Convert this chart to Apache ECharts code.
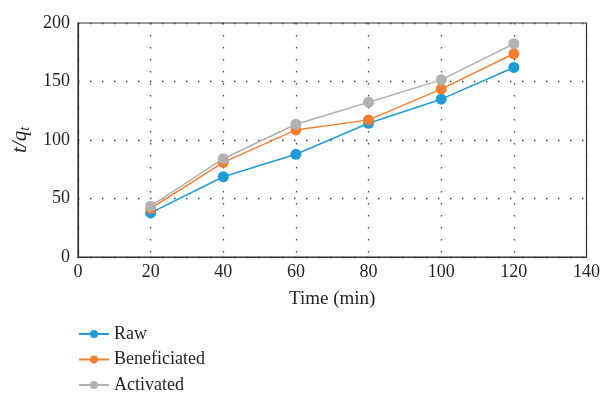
<!DOCTYPE html>
<html>
<head>
<meta charset="utf-8">
<script src="https://cdn.jsdelivr.net/npm/echarts@6/dist/echarts.min.js"></script>
<style>
  html, body { margin: 0; padding: 0; background: #fff; }
  #chart { width: 603px; height: 394px; }
</style>
</head>
<body>
<div id="chart"></div>
<script>
const times = [20, 40, 60, 80, 100, 120];
const rawValues = [37.7, 68.6, 87.8, 114.3, 134.9, 162];
const beneficiatedValues = [41.5, 80.9, 108.6, 117.2, 143.5, 173.7];
const activatedValues = [43.4, 84, 113.5, 132.3, 151.4, 182.3];

const fontFamily = '"Liberation Serif", "DejaVu Serif", serif';
const textColor = '#231f20';

const toPairs = (vals) => vals.map((v, i) => [times[i], v]);

const makeSeries = (name, vals, color) => ({
    name: name,
    type: 'line',
    symbol: 'circle',
    symbolSize: 11,
    itemStyle: { color: color },
    lineStyle: { color: color, width: 1.5 },
    data: toPairs(vals)
});

const myChart = echarts.init(document.getElementById('chart'));

const option = {
    animation: false,
    textStyle: { fontFamily: fontFamily, color: textColor },
    grid: {
        left: 78,
        right: 16,
        top: 23,
        bottom: 137,
        show: true,
        borderColor: '#333',
        borderWidth: 1.2
    },
    legend: {
        orient: 'vertical',
        left: 78,
        top: 325,
        height: 90,
        padding: 0,
        itemWidth: 30,
        itemHeight: 10,
        itemGap: 7.5,
        textStyle: { fontFamily: fontFamily, fontSize: 18, color: textColor },
        data: ['Raw', 'Beneficiated', 'Activated']
    },
    xAxis: {
        type: 'value',
        min: 0,
        max: 140,
        interval: 20,
        name: 'Time (min)',
        nameLocation: 'middle',
        nameGap: 33,
        nameTextStyle: { fontFamily: fontFamily, fontSize: 19, color: textColor },
        axisLabel: { fontFamily: fontFamily, fontSize: 18, color: textColor, margin: 6 },
        axisLine: { show: true, lineStyle: { color: '#333', width: 1.2 } },
        axisTick: { show: false },
        splitLine: {
            show: true,
            lineStyle: { color: '#444', type: [1.5, 10.5], width: 1.3 }
        }
    },
    yAxis: {
        type: 'value',
        min: 0,
        max: 200,
        interval: 50,
        name: '{i|t/q}{s|t}',
        nameLocation: 'middle',
        nameGap: 37,
        nameRotate: 90,
        nameTextStyle: {
            rich: {
                i: { fontFamily: fontFamily, fontStyle: 'italic', fontSize: 21, color: textColor },
                s: { fontFamily: fontFamily, fontStyle: 'italic', fontSize: 14, color: textColor, padding: [9, 0, 0, 0] }
            }
        },
        axisLabel: { fontFamily: fontFamily, fontSize: 18, color: textColor, margin: 8 },
        axisLine: { show: true, lineStyle: { color: '#333', width: 1.2 } },
        axisTick: { show: false },
        splitLine: {
            show: true,
            lineStyle: { color: '#444', type: [1.5, 10.5], width: 1.3 }
        }
    },
    series: [
        makeSeries('Raw', rawValues, '#1f9bd7'),
        makeSeries('Beneficiated', beneficiatedValues, '#f47f32'),
        makeSeries('Activated', activatedValues, '#b1b1b1')
    ]
};

myChart.setOption(option);
</script>
</body>
</html>
